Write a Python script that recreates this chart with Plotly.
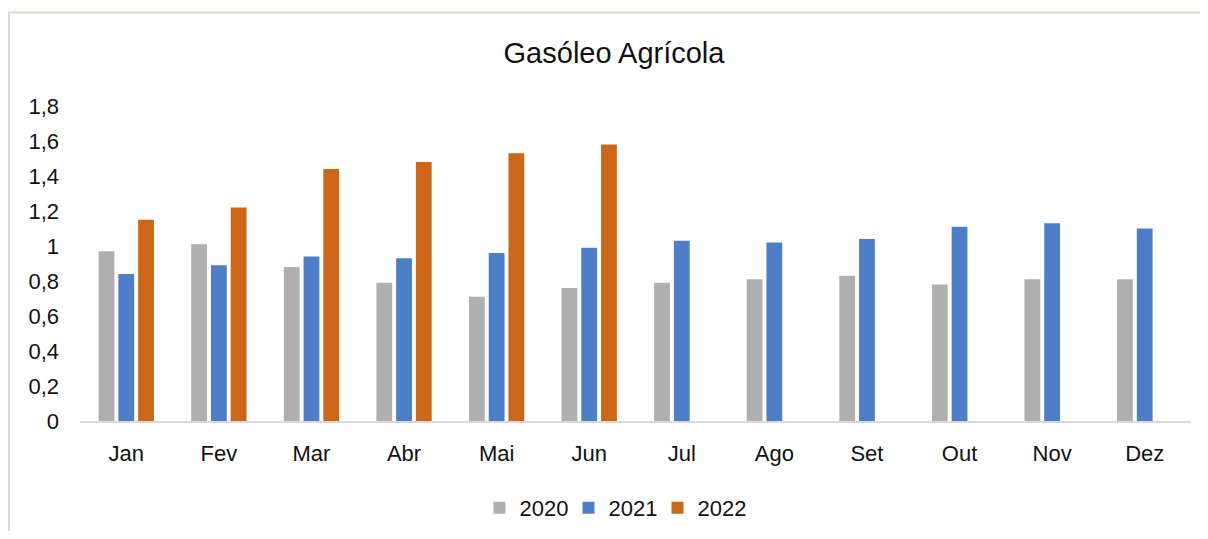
import plotly.graph_objects as go

months = ["Jan", "Fev", "Mar", "Abr", "Mai", "Jun", "Jul", "Ago", "Set", "Out", "Nov", "Dez"]
v2020 = [0.97, 1.01, 0.88, 0.79, 0.71, 0.76, 0.79, 0.81, 0.83, 0.78, 0.81, 0.81]
v2021 = [0.84, 0.89, 0.94, 0.93, 0.96, 0.99, 1.03, 1.02, 1.04, 1.11, 1.13, 1.10]
v2022 = [1.15, 1.22, 1.44, 1.48, 1.53, 1.58, None, None, None, None, None, None]
y_ticks = [0, 0.2, 0.4, 0.6, 0.8, 1.0, 1.2, 1.4, 1.6, 1.8]
y_labels = ["0", "0,2", "0,4", "0,6", "0,8", "1", "1,2", "1,4", "1,6", "1,8"]

series = [("2020", v2020, "#AFAFAF"), ("2021", v2021, "#4F7EC9"), ("2022", v2022, "#CC6619")]

fig = go.Figure()
for name, vals, col in series:
    fig.add_trace(go.Bar(x=months, y=vals, name=name, marker=dict(color=col, line=dict(width=0))))

# page has an 8px body margin; figure sized so it fits without scrollbars
OFF = 8
W, H = 1192, 523
L, R, T, B = 80 - OFF, W - (1191 - OFF), 106 - OFF, H - (421 - OFF)
pw, ph = W - L - R, H - T - B

def px(x):
    return (x - OFF - L) / pw

def py(y):
    return (H - B - (y - OFF)) / ph

cream = "#FDFBF3"
edge = "#DAD9D4"
# cream surround (top and left) and the light frame edges
fig.add_shape(type="rect", xref="paper", yref="paper", x0=px(-50), x1=px(1300),
              y0=py(11.5), y1=py(-50), fillcolor=cream, line=dict(width=0), layer="below")
fig.add_shape(type="rect", xref="paper", yref="paper", x0=px(-50), x1=px(8),
              y0=py(-50), y1=py(600), fillcolor=cream, line=dict(width=0), layer="below")
fig.add_shape(type="line", xref="paper", yref="paper", x0=px(8), x1=px(1300),
              y0=py(12.5), y1=py(12.5), line=dict(color=edge, width=2), layer="below")
fig.add_shape(type="line", xref="paper", yref="paper", x0=px(9), x1=px(9),
              y0=py(12.5), y1=py(600), line=dict(color=edge, width=2), layer="below")

font = "Liberation Sans, Arial, sans-serif"
fig.update_layout(
    width=W, height=H,
    margin=dict(l=L, r=R, t=T, b=B, autoexpand=False),
    paper_bgcolor="white",
    plot_bgcolor="rgba(0,0,0,0)",
    separators=",.",
    barmode="group",
    bargap=0.36,
    bargroupgap=0.2,
    font=dict(family=font, size=22, color="#111111"),
    title=dict(text="Gasóleo Agrícola", xref="container", yref="container",
               x=(614 - OFF) / W, y=1 - (53 - OFF) / H, xanchor="center", yanchor="middle",
               font=dict(family=font, size=29, color="#111111")),
    showlegend=True,
    legend=dict(orientation="h", x=px(613), xanchor="center", y=py(508), yanchor="middle",
                entrywidth=44, entrywidthmode="pixels",
                font=dict(family=font, size=22, color="#111111"),
                bgcolor="rgba(0,0,0,0)", itemclick=False),
    xaxis=dict(showline=True, linecolor="#D9D9D9", linewidth=2, showgrid=False,
               ticks="", ticklabelstandoff=12, zeroline=False),
    yaxis=dict(range=[0, 1.8], tickvals=y_ticks, ticktext=y_labels, showgrid=False,
               showline=False, zeroline=False, ticks="", ticklabelstandoff=20),
)

fig.write_html("out.html")
